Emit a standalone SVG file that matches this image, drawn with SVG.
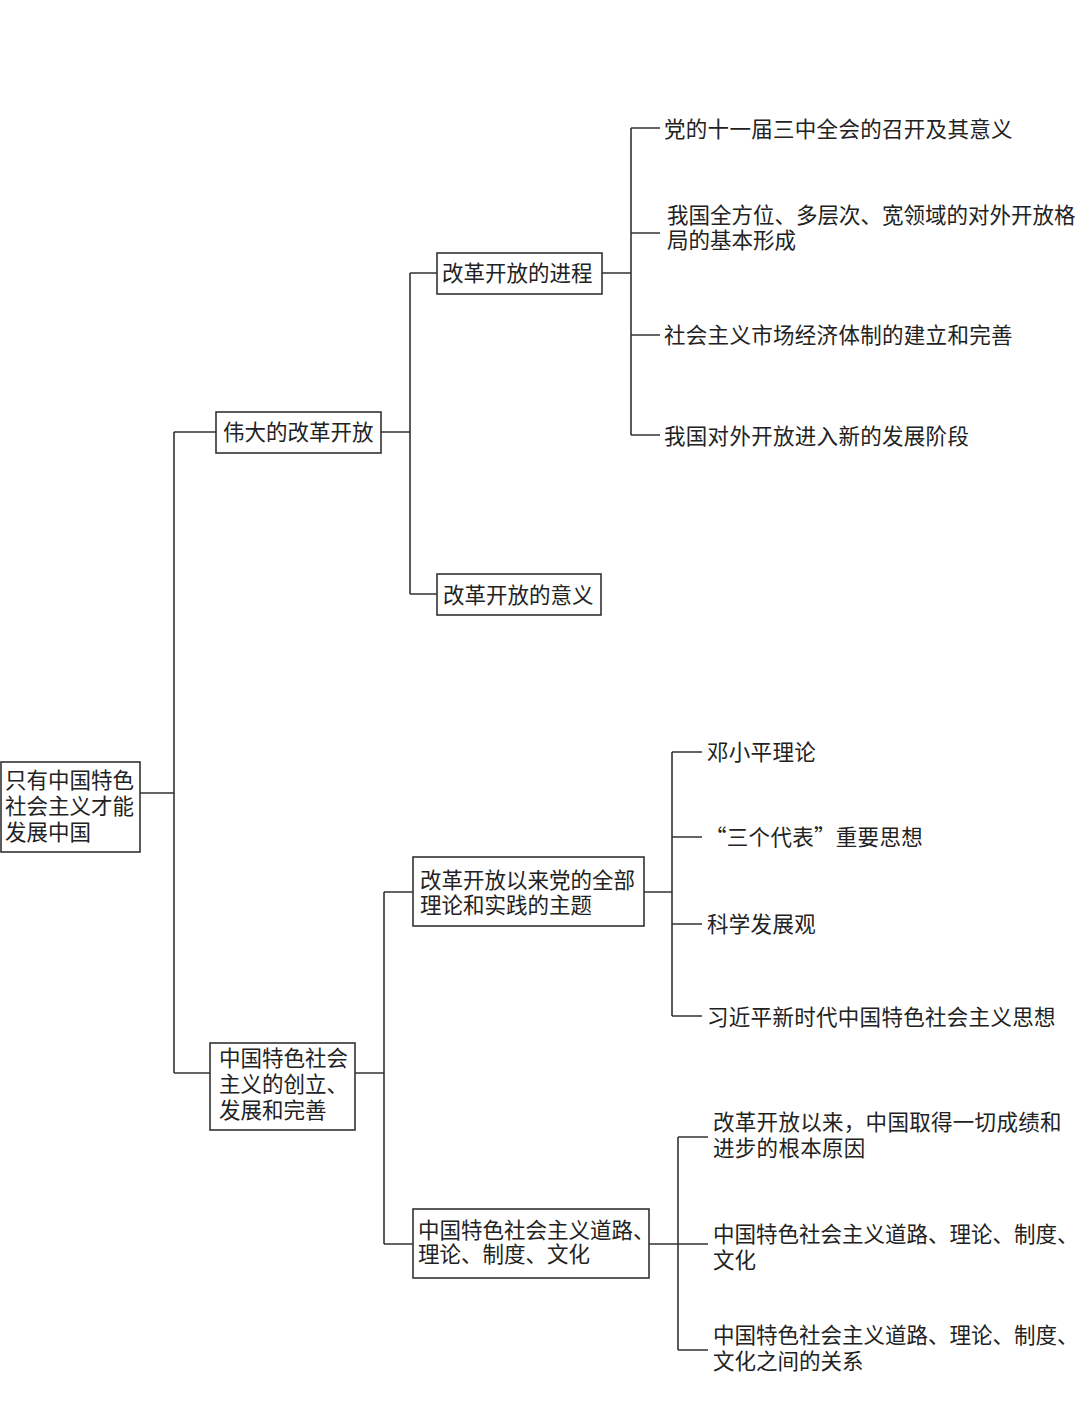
<svg xmlns="http://www.w3.org/2000/svg" width="1080" height="1401" viewBox="0 0 1080 1401">
<style>
.box{fill:#fff;stroke:#333;stroke-width:1.6}
.ln{fill:none;stroke:#333;stroke-width:1.6}
text{font-family:"Noto Sans CJK SC","Noto Sans CJK TC",sans-serif;font-size:21.5px;fill:#222;dominant-baseline:central}
.lf{letter-spacing:0.3px}
</style>
<rect width="1080" height="1401" fill="#fff"/>
<g id="connectors">
<path class="ln" d="M140,793H174M174,432V1073M174,432H216M174,1073H210"/>
<path class="ln" d="M381,432H410M410,273V594M410,273H437M410,594H437"/>
<path class="ln" d="M602,273H631M631,128V435M631,128H660M631,233H660M631,335H660M631,435H660"/>
<path class="ln" d="M355,1073H384M384,892V1244M384,892H413M384,1244H413"/>
<path class="ln" d="M644,892H672M672,752V1016M672,752H702M672,837H702M672,924H702M672,1016H702"/>
<path class="ln" d="M649,1244H708M678,1137V1350M678,1137H708M678,1350H708"/>
</g>
<g id="root"><rect class="box" x="1" y="762" width="139" height="90"/>
<text x="5" y="778"><tspan x="5">只有中国特色</tspan><tspan x="5" dy="26">社会主义才能</tspan><tspan x="5" dy="26">发展中国</tspan></text></g>
<g id="n1"><rect class="box" x="216" y="412" width="165" height="41"/><text x="223" y="430">伟大的改革开放</text></g>
<g id="n11"><rect class="box" x="437" y="253" width="165" height="41"/><text x="442" y="271">改革开放的进程</text></g>
<g id="n12"><rect class="box" x="437" y="574" width="164" height="41"/><text x="443" y="593">改革开放的意义</text></g>
<g id="l111"><text class="lf" x="664" y="127">党的十一届三中全会的召开及其意义</text></g>
<g id="l112"><text x="667" y="213"><tspan x="667">我国全方位、多层次、宽领域的对外开放格</tspan><tspan x="667" dy="25">局的基本形成</tspan></text></g>
<g id="l113"><text class="lf" x="664" y="333">社会主义市场经济体制的建立和完善</text></g>
<g id="l114"><text class="lf" x="664" y="434">我国对外开放进入新的发展阶段</text></g>
<g id="n2"><rect class="box" x="210" y="1043" width="145" height="87"/>
<text x="219" y="1056"><tspan x="219">中国特色社会</tspan><tspan x="219" dy="26">主义的创立、</tspan><tspan x="219" dy="26">发展和完善</tspan></text></g>
<g id="n21"><rect class="box" x="413" y="857" width="231" height="69"/>
<text x="420" y="878"><tspan x="420">改革开放以来党的全部</tspan><tspan x="420" dy="25">理论和实践的主题</tspan></text></g>
<g id="l211"><text class="lf" x="707" y="750">邓小平理论</text></g>
<g id="l212"><text class="lf" x="705" y="835">“三个代表”重要思想</text></g>
<g id="l213"><text class="lf" x="707" y="922">科学发展观</text></g>
<g id="l214"><text class="lf" x="707" y="1015">习近平新时代中国特色社会主义思想</text></g>
<g id="n22"><rect class="box" x="413" y="1209" width="236" height="69"/>
<text x="418" y="1228"><tspan x="418">中国特色社会主义道路、</tspan><tspan x="418" dy="24">理论、制度、文化</tspan></text></g>
<g id="l221"><text class="lf" x="713" y="1120"><tspan x="713">改革开放以来，中国取得一切成绩和</tspan><tspan x="713" dy="26">进步的根本原因</tspan></text></g>
<g id="l222"><text x="713" y="1232"><tspan x="713">中国特色社会主义道路、理论、制度、</tspan><tspan x="713" dy="26">文化</tspan></text></g>
<g id="l223"><text x="713" y="1333"><tspan x="713">中国特色社会主义道路、理论、制度、</tspan><tspan x="713" dy="26">文化之间的关系</tspan></text></g>
</svg>
